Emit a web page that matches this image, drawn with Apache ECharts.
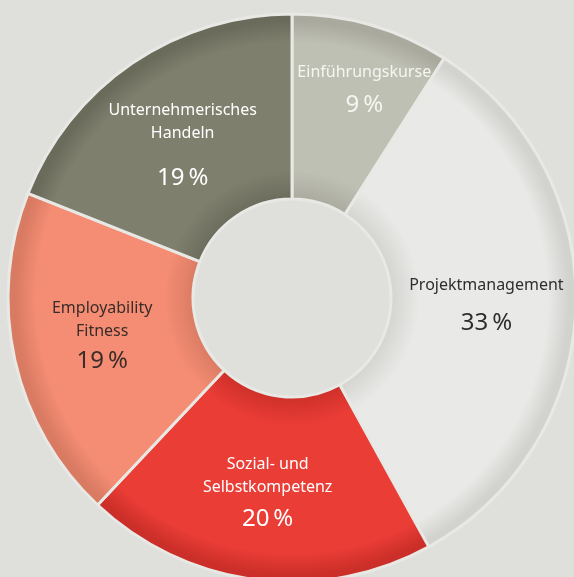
<!DOCTYPE html>
<html>
<head>
<meta charset="utf-8">
<script src="https://cdn.jsdelivr.net/npm/echarts@6/dist/echarts.min.js"></script>
<style>
  html, body { margin: 0; padding: 0; background: #dfe0db; }
  #chart { width: 574px; height: 577px; }
</style>
</head>
<body>
<div id="chart"></div>
<script>
// 数据
const categories = ['Einführungskurse', 'Projektmanagement', 'Sozial- und\nSelbstkompetenz', 'Employability\nFitness', 'Unternehmerisches\nHandeln']
const shares = [9, 33, 20, 19, 19]

// 样式
const baseColors = ['#bfc0b4', '#e9e9e7', '#ea3d36', '#f48d74', '#7e7f6d']
const edgeColors = ['#a9aa9d', '#d2d2cf', '#cc2f29', '#d97a62', '#6a6b5b']
const textColors = ['#f6f6f0', '#2e2e2e', '#ffffff', '#3a2c28', '#ffffff']
const valueHeights = [41, 53, 41, 37, 67]
const paddings = [[0, 0, 36, 36], [16, 0, 0, 0], [10, 0, 0, 0], [0, 0, 4, 0], [36, 0, 0, 0]]

const cx = 292, cy = 298, r0 = 99, r1 = 284

let myChart = echarts.init(document.getElementById('chart'))

const data = categories.map((name, i) => ({
  name: name,
  value: shares[i],
  itemStyle: {
    color: {
      type: 'radial', x: cx, y: cy, r: r1, global: true,
      colorStops: [
        { offset: 0.34, color: edgeColors[i] },
        { offset: 0.45, color: baseColors[i] },
        { offset: 0.9, color: baseColors[i] },
        { offset: 0.975, color: edgeColors[i] },
        { offset: 1, color: edgeColors[i] }
      ]
    }
  },
  label: {
    padding: paddings[i],
    rich: {
      n: { fontSize: 16, lineHeight: 23, color: textColors[i], fontFamily: 'Noto Sans', align: 'center' },
      v: { fontSize: 24, lineHeight: valueHeights[i], color: textColors[i], fontFamily: 'Noto Sans', align: 'center' }
    }
  }
}))

myChart.setOption({
  backgroundColor: '#dfe0db',
  animation: false,
  series: [
    {
      type: 'pie',
      center: [cx, cy],
      radius: [r0, r1],
      startAngle: 90,
      clockwise: true,
      silent: true,
      itemStyle: {
        borderColor: '#e8e8e4',
        borderWidth: 3
      },
      label: {
        show: true,
        position: 'inside',
        formatter: p => `{n|${p.name}}\n{v|${p.value}\u2009%}`
      },
      labelLine: { show: false },
      data: data
    }
  ]
})
</script>
</body>
</html>
